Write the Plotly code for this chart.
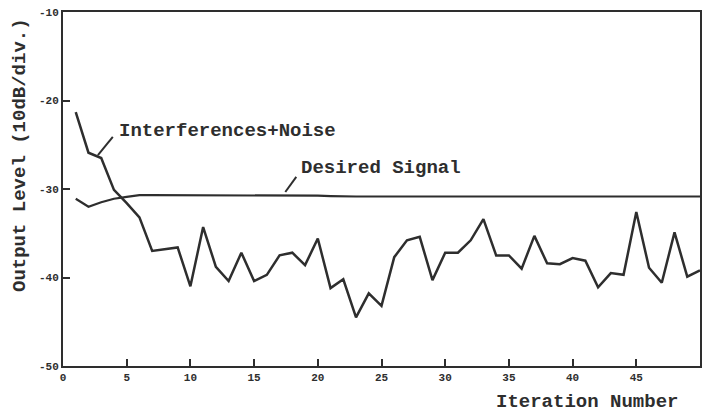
import plotly.graph_objects as go

iterations = list(range(1, 51))
interference_noise = [-21.3, -25.9, -26.5, -30.1, -31.6, -33.2, -37.0, -36.8, -36.6, -41.0,
                      -34.3, -38.8, -40.4, -37.2, -40.4, -39.7, -37.5, -37.2, -38.6, -35.6,
                      -41.2, -40.2, -44.5, -41.8, -43.2, -37.7, -35.8, -35.4, -40.3, -37.2,
                      -37.2, -35.8, -33.4, -37.5, -37.5, -39.0, -35.3, -38.4, -38.5, -37.8,
                      -38.1, -41.1, -39.5, -39.7, -32.6, -38.9, -40.6, -34.9, -39.9, -39.2]
desired_signal = [-31.1, -32.0, -31.5, -31.1, -30.9, -30.7, -30.7, -30.7, -30.7, -30.7,
                  -30.7, -30.7, -30.7, -30.7, -30.7, -30.75, -30.75, -30.75, -30.75, -30.75,
                  -30.8, -30.85, -30.85, -30.85, -30.85, -30.85, -30.85, -30.85, -30.85, -30.85,
                  -30.85, -30.85, -30.85, -30.85, -30.85, -30.85, -30.85, -30.85, -30.85, -30.85,
                  -30.85, -30.85, -30.85, -30.85, -30.85, -30.85, -30.85, -30.85, -30.85, -30.85]
x_ticks = [0, 5, 10, 15, 20, 25, 30, 35, 40, 45, 50]
y_ticks = [-10, -20, -30, -40, -50]

ink = "#2e2e2e"
font = "Liberation Mono"

fig = go.Figure()
fig.add_trace(go.Scatter(x=iterations, y=interference_noise, mode="lines",
                         line=dict(color=ink, width=2.5), showlegend=False))
fig.add_trace(go.Scatter(x=iterations, y=desired_signal, mode="lines",
                         line=dict(color=ink, width=2.2), showlegend=False))

# label leader lines
fig.add_shape(type="line", x0=2.74, y0=-26.16, x1=3.91, y1=-24.1,
              line=dict(color=ink, width=2), xref="x", yref="y")
fig.add_shape(type="line", x0=17.45, y0=-30.34, x1=18.31, y1=-28.64,
              line=dict(color=ink, width=2), xref="x", yref="y")

fig.add_annotation(x=4.23, y=-23.45, xref="x", yref="y", text="<b>Interferences+Noise</b>",
                   showarrow=False, xanchor="left", yanchor="middle",
                   font=dict(family=font, size=19, color=ink))
fig.add_annotation(x=18.55, y=-27.63, xref="x", yref="y", text="<b>Desired Signal</b>",
                   showarrow=False, xanchor="left", yanchor="middle",
                   font=dict(family=font, size=19, color=ink))
fig.add_annotation(x=0.822, y=0, xref="paper", yref="paper", yshift=-36,
                   text="<b>Iteration Number</b>", showarrow=False,
                   xanchor="center", yanchor="middle",
                   font=dict(family=font, size=19, color=ink))
fig.add_annotation(x=0, y=0.596, xref="paper", yref="paper", xshift=-43,
                   text="<b>Output Level (10dB/div.)</b>", showarrow=False, textangle=-90,
                   xanchor="center", yanchor="middle",
                   font=dict(family=font, size=19, color=ink))

axis_common = dict(showline=True, linecolor=ink, linewidth=2, mirror=True,
                   ticks="inside", ticklen=7, tickwidth=2, tickcolor=ink,
                   showgrid=False, zeroline=False,
                   tickfont=dict(family=font, size=11, color=ink))
fig.update_xaxes(range=[0, 50], tickvals=x_ticks,
                 ticktext=[f"<b>{t}</b>" for t in x_ticks], **axis_common)
fig.update_yaxes(range=[-50, -10], tickvals=y_ticks,
                 ticktext=[f"<b>{t}</b>" for t in y_ticks], **axis_common)

fig.update_layout(width=704, height=412, margin=dict(l=63, r=2, t=12, b=46),
                  plot_bgcolor="white", paper_bgcolor="white")
fig.write_html("out.html", config={"displayModeBar": False},
               post_script="document.body.style.margin='0';document.body.style.overflow='hidden';")
